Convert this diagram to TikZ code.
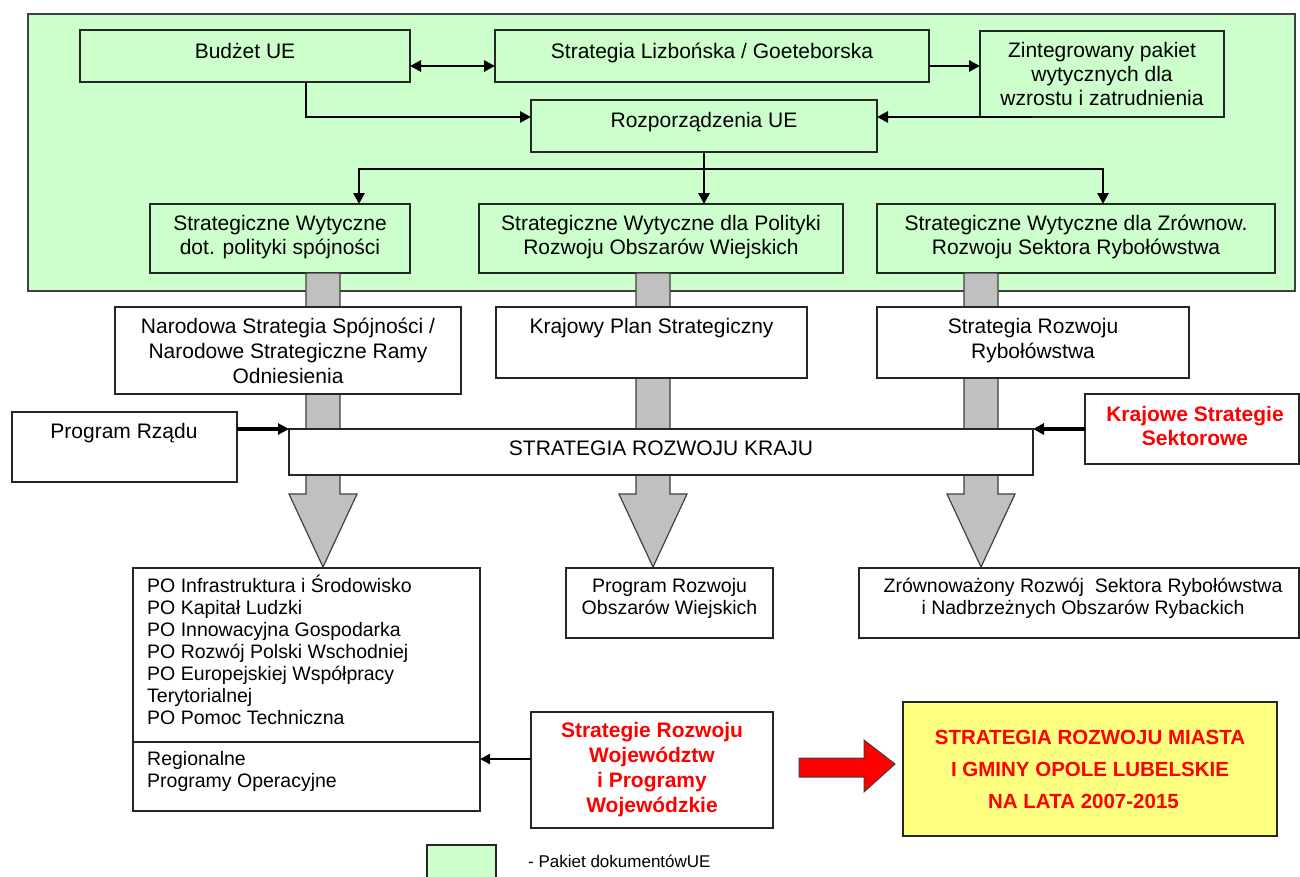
\documentclass[tikz,border=0pt]{standalone}
\usepackage{fontspec}
\setmainfont{Liberation Sans}
\usetikzlibrary{arrows.meta}
\definecolor{ueGreen}{HTML}{CCFFCC}
\definecolor{barGray}{HTML}{C0C0C0}
\definecolor{edgeGray}{HTML}{404040}
\definecolor{yelBox}{HTML}{FFFF80}
\definecolor{redTxt}{HTML}{FF0000}
\begin{document}
\begin{tikzpicture}[x=1pt,y=-1pt,
  box/.style={draw=black!85, line width=1.3pt, inner sep=0pt, outer sep=0pt, anchor=north west},
  gbox/.style={box, fill=ueGreen},
  wbox/.style={box, fill=white},
  txt/.style={inner sep=0pt, anchor=base, align=center, font=\fontsize{21}{24}\selectfont},
  stxt/.style={inner sep=0pt, anchor=base, align=center, font=\fontsize{19.5}{22}\selectfont},
  rtxt/.style={inner sep=0pt, anchor=base, align=center, text=redTxt, font=\bfseries\fontsize{21}{24}\selectfont},
  tip/.style={-{Triangle[length=11pt,width=11pt]}},
  arr/.style={line width=2.8pt, tip},
  arrb/.style={line width=3.6pt, -{Triangle[length=11pt,width=11pt]}},
  bar/.style={fill=barGray, draw=edgeGray, line width=1.2pt},
]
\useasboundingbox (0,0) rectangle (1300,876);
\clip (0,0) rectangle (1300,876);
\fill[white] (0,0) rectangle (1300,876);
% EU package
\draw[fill=ueGreen, draw=edgeGray, line width=1.5pt] (28,14) rectangle (1295,291);

% (multi-line text nodes are placed by the baseline of their last line)
\node[gbox, minimum width=330pt, minimum height=52pt] (bud) at (80,30) {};
\node[txt] (bud-t) at (245,58) {Budżet UE};
\node[gbox, minimum width=434pt, minimum height=52pt] (liz) at (495,30) {};
\node[txt] (liz-t) at (712,58) {Strategia Lizbońska / Goeteborska};
\node[gbox, minimum width=244pt, minimum height=86pt] (zin) at (980,31) {};
\node[txt] (zin-t) at (1102,105) {Zintegrowany pakiet\\wytycznych dla\\wzrostu i zatrudnienia};
\node[gbox, minimum width=346pt, minimum height=52pt] (roz) at (531,100) {};
\node[txt] (roz-t) at (704,127) {Rozporządzenia UE};
\node[gbox, minimum width=260pt, minimum height=69pt] (sw1) at (150,204) {};
\node[txt] (sw1-t) at (280,254) {Strategiczne Wytyczne\\dot. polityki spójności};
\node[gbox, minimum width=364pt, minimum height=69pt] (sw2) at (479,204) {};
\node[txt] (sw2-t) at (661,254) {Strategiczne Wytyczne dla Polityki\\Rozwoju Obszarów Wiejskich};
\node[gbox, minimum width=398pt, minimum height=69pt] (sw3) at (877,204) {};
\node[txt] (sw3-t) at (1076,254) {Strategiczne Wytyczne dla Zrównow.\\Rozwoju Sektora Rybołówstwa};

% top connectors
\draw[line width=2.8pt, {Triangle[length=11pt,width=11pt]}-{Triangle[length=11pt,width=11pt]}] (bud.east |- 0,66) -- (liz.west |- 0,66);
\draw[arr] (liz.east |- 0,66) -- (zin.west |- 0,66);
\draw[arr] (bud.south -| 306,0) |- (roz.west |- 0,117);
\draw[arr] (zin.south -| 1032,0) -- (roz.east |- 0,117);
\draw[arr] (roz.south) -- (roz.south |- sw2.north);
\draw[arr] (roz.south |- 0,169) -| (sw1.north -| 359,0);
\draw[arr] (roz.south |- 0,169) -| (sw3.north -| 1103,0);

% gray flow bars
\foreach \c in {323,653,981}{
  \draw[bar] (\c-17,273) -- (\c-17,494) -- (\c-34,494) -- (\c,567) -- (\c+34,494) -- (\c+17,494) -- (\c+17,273) -- cycle;
}

% national level
\node[wbox, minimum width=346pt, minimum height=87pt] (nar) at (115,307) {};
\node[txt, font=\fontsize{21}{25}\selectfont] (nar-t) at (288,383) {Narodowa Strategia Spójności /\\Narodowe Strategiczne Ramy\\Odniesienia};
\node[wbox, minimum width=311pt, minimum height=71pt] (kra) at (496,307) {};
\node[txt] (kra-t) at (651.5,333) {Krajowy Plan Strategiczny};
\node[wbox, minimum width=312pt, minimum height=71pt] (srr) at (877,307) {};
\node[txt, font=\fontsize{21}{25}\selectfont] (srr-t) at (1033,358) {Strategia Rozwoju\\Rybołówstwa};
\node[wbox, minimum width=225pt, minimum height=70pt] (prz) at (12,412) {};
\node[txt] (prz-t) at (124,438) {Program Rządu};
\node[wbox, minimum width=744pt, minimum height=46pt] (srk) at (289,429) {};
\node[txt] (srk-t) at (661,455) {STRATEGIA ROZWOJU KRAJU};
\node[wbox, minimum width=214pt, minimum height=70pt] (kss) at (1085,394) {};
\node[rtxt] (kss-t) at (1195,445) {Krajowe Strategie\\Sektorowe};
\draw[arrb] (prz.east |- 0,429) -- (srk.west |- 0,429);
\draw[arrb] (kss.west |- 0,429) -- (srk.east |- 0,429);

% programmes
\node[wbox, minimum width=347pt, minimum height=243pt] (po) at (133,568) {};
\draw[draw=black!85, line width=1.3pt] (po.west |- 0,742) -- (po.east |- 0,742);
\node[stxt, anchor=base west, align=left] (po-t) at (147,724) {PO Infrastruktura i Środowisko\\PO Kapitał Ludzki\\PO Innowacyjna Gospodarka\\PO Rozwój Polski Wschodniej\\PO Europejskiej Współpracy\\Terytorialnej\\PO Pomoc Techniczna};
\node[stxt, anchor=base west, align=left] (reg-t) at (147,787) {Regionalne\\Programy Operacyjne};
\node[wbox, minimum width=207pt, minimum height=70pt] (pro) at (566,568) {};
\node[stxt] (pro-t) at (669.5,614) {Program Rozwoju\\Obszarów Wiejskich};
\node[wbox, minimum width=440pt, minimum height=70pt] (zro) at (859,568) {};
\node[stxt] (zro-t) at (1083,614) {Zrównoważony Rozwój \ Sektora Rybołówstwa\\i Nadbrzeżnych Obszarów Rybackich};
\node[wbox, minimum width=242pt, minimum height=116pt] (swo) at (531,712) {};
\node[rtxt, font=\bfseries\fontsize{21}{25}\selectfont] (swo-t) at (652,812) {Strategie Rozwoju\\Województw\\i Programy\\Wojewódzkie};
\draw[line width=2.4pt, -{Triangle[length=10pt,width=10pt]}] (swo.west |- 0,759) -- (po.east |- 0,759);

% final strategy
\node[box, fill=yelBox, minimum width=374pt, minimum height=134pt] (yel) at (903,702) {};
\node[rtxt, font=\bfseries\fontsize{20.5}{32}\selectfont] (yel-t) at (1090,808) {STRATEGIA ROZWOJU MIASTA\\I GMINY OPOLE LUBELSKIE\\NA LATA 2007-2015\hspace*{13pt}};
\draw[fill=red, draw=black!75, line width=1pt] (799,758) -- (864,758) -- (864,740) -- (895,764) -- (864,792) -- (864,777) -- (799,777) -- cycle;

% legend
\node[gbox, minimum width=69pt, minimum height=45pt] (leg) at (427,845) {};
\node[inner sep=0pt, anchor=base west, font=\fontsize{17}{19}\selectfont] (leg-t) at (528,867) {- Pakiet dokumentówUE};
\end{tikzpicture}
\end{document}
